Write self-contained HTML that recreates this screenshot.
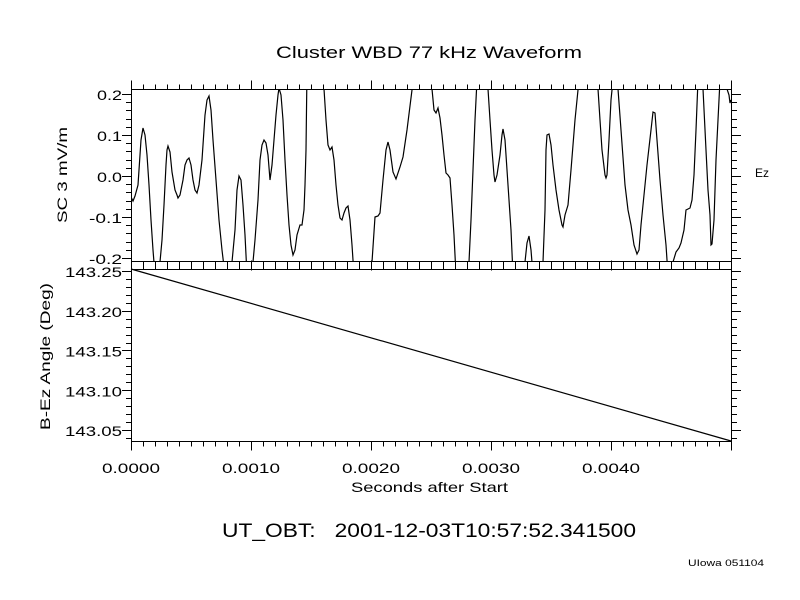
<!DOCTYPE html>
<html><head><meta charset="utf-8"><style>
html,body{margin:0;padding:0;background:#fff;}
svg{display:block;font-family:"Liberation Sans",sans-serif;}
</style></head><body>
<svg id="s" width="800" height="600" viewBox="0 0 800 600" xmlns="http://www.w3.org/2000/svg">
<rect width="800" height="600" fill="#fff"/>
<text x="276" y="58" font-size="17" textLength="306" lengthAdjust="spacingAndGlyphs">Cluster WBD 77 kHz Waveform</text>
<defs><clipPath id="c1"><rect x="131" y="89" width="600" height="172"/></clipPath></defs>
<g id="ax" stroke="#000" stroke-width="1" fill="none"></g>
<polyline clip-path="url(#c1)" fill="none" stroke="#000" stroke-width="1.2" points="131,197 133,201 135,196 138,185 141,140 143,128 145,135 147,155 149,185 151,220 153,250 155,275 159,275 160,262 162,240 164,205 166,165 167,150 168,146 170,152 172,172 175,190 177,195 178,198 180,195 183,180 185,165 187,160 189,158 191,165 193,180 195,190 197,193 199,185 202,160 205,115 207,100 209,96 211,110 213,140 216,180 219,220 222,250 225,275 231,275 232,262 235,230 237,190 239,176 241,180 243,205 245,235 247,275 252,275 253,262 255,240 258,200 260,160 262,145 264,140 266,143 268,155 270,180 272,165 274,140 276,115 278,95 279,88 281,95 283,120 285,160 287,195 289,225 291,245 293,255 295,250 297,235 300,225 302,225 304,210 305,185 306,150 307,70 323,70 324,89 326,120 328,145 330,150 332,147 334,160 336,185 338,205 340,218 342,220 344,213 346,208 348,206 350,220 352,245 354,275 371,275 372,262 375,217 378,216 380,213 383,180 386,150 388,142 390,150 393,172 396,179 400,167 403,157 407,130 412,90 413,70 431,70 432,89 434,110 436,113 438,108 440,118 442,135 444,155 446,173 448,175 450,178 452,205 454,235 456,275 468,275 469,262 471,220 473,170 475,120 477,80 478,70 487,70 488,89 490,120 492,150 494,175 495,182 497,175 500,155 502,135 503,129 505,140 507,170 509,200 511,230 513,275 524,275 525,262 527,243 529,236 531,250 533,275 542,275 543,262 545,210 546,150 547,135 549,134 551,145 553,165 556,190 559,210 562,225 563,227 565,215 568,205 571,170 575,120 579,80 580,70 597,70 598,89 600,120 602,150 605,175 606,178 607,175 609,140 611,100 613,80 614,70 617,70 618,89 621,130 625,185 628,210 631,225 634,245 637,254 639,250 641,225 644,195 647,165 651,130 653,112 655,113 657,140 660,180 663,215 666,245 668,275 672,275 673,262 676,252 679,248 681,243 684,230 686,210 688,209 690,208 692,200 694,175 696,130 698,80 699,70 702,70 703,89 706,150 708,190 710,215 711,245 712,244 714,220 716,160 718,120 720,80 721,70 726,70 727,89 729,95 730,103 731,100"/>
<line x1="131" y1="269" x2="731" y2="441" stroke="#000" stroke-width="1.2"/>
<text x="755" y="177" font-size="12" textLength="14" lengthAdjust="spacingAndGlyphs">Ez</text>
<text transform="translate(67,223) rotate(-90)" font-size="14" textLength="96" lengthAdjust="spacingAndGlyphs">SC 3 mV/m</text>
<text transform="translate(50,430) rotate(-90)" font-size="14" textLength="147" lengthAdjust="spacingAndGlyphs">B-Ez Angle (Deg)</text>
<text x="351" y="492" font-size="14" textLength="157" lengthAdjust="spacingAndGlyphs">Seconds after Start</text>
<text x="222" y="537" font-size="19" textLength="414" lengthAdjust="spacingAndGlyphs" xml:space="preserve" style="white-space:pre">UT_OBT:   2001-12-03T10:57:52.341500</text>
<text x="688" y="566" font-size="9" textLength="76" lengthAdjust="spacingAndGlyphs">UIowa 051104</text>
<g id="lbl" font-size="14"></g>
</svg>
<script>
var ax=document.getElementById('ax'),lb=document.getElementById('lbl'),NS='http://www.w3.org/2000/svg';
function L(a,b,c,d){var e=document.createElementNS(NS,'line');e.setAttribute('x1',a);e.setAttribute('y1',b);e.setAttribute('x2',c);e.setAttribute('y2',d);ax.appendChild(e);}
function T(x,y,t,w){var e=document.createElementNS(NS,'text');e.setAttribute('x',x);e.setAttribute('y',y);e.setAttribute('textLength',w);e.setAttribute('lengthAdjust','spacingAndGlyphs');e.textContent=t;lb.appendChild(e);}
var X0=131,X1=731;
[[89,261],[269,441]].forEach(function(p){
 var t=p[0]+0.5,b=p[1]+0.5;
 L(X0+.5,t,X1+.5,t);L(X0+.5,b,X1+.5,b);L(X0+.5,t,X0+.5,b);L(X1+.5,t,X1+.5,b);
 for(var i=0;i<=50;i++){var x=X0+12*i+.5,len=(i%10==0)?9:5;L(x,t,x,t-len);L(x,b,x,b+len);}
});
for(var k=-10;k<=10;k++){var y=176-k*8.2;if(y<89||y>261)continue;y=Math.round(y)+.5;var len=(k%5==0)?9:5;L(X0,y,X0-len,y);L(X1+1,y,X1+1+len,y);}
[0.2,0.1,0.0,-0.1,-0.2].forEach(function(v){var y=176-v*410;var s=v.toFixed(1);var w=s.length==3?25:33;T(122-w,y+6,s,w);});
for(var k=0;k<=22;k++){var v=143.04+k*0.01;var y=271+(143.25-v)*795;if(y<269||y>441)continue;y=Math.round(y)+.5;var len=(k%5==1)?9:5;L(X0,y,X0-len,y);L(X1+1,y,X1+1+len,y);}
[143.25,143.20,143.15,143.10,143.05].forEach(function(v){var y=271+(143.25-v)*795;T(65,y+6,v.toFixed(2),57);});
['0.0000','0.0010','0.0020','0.0030','0.0040'].forEach(function(s,i){T(X0+120*i-29,473,s,58);});
</script>
</body></html>
